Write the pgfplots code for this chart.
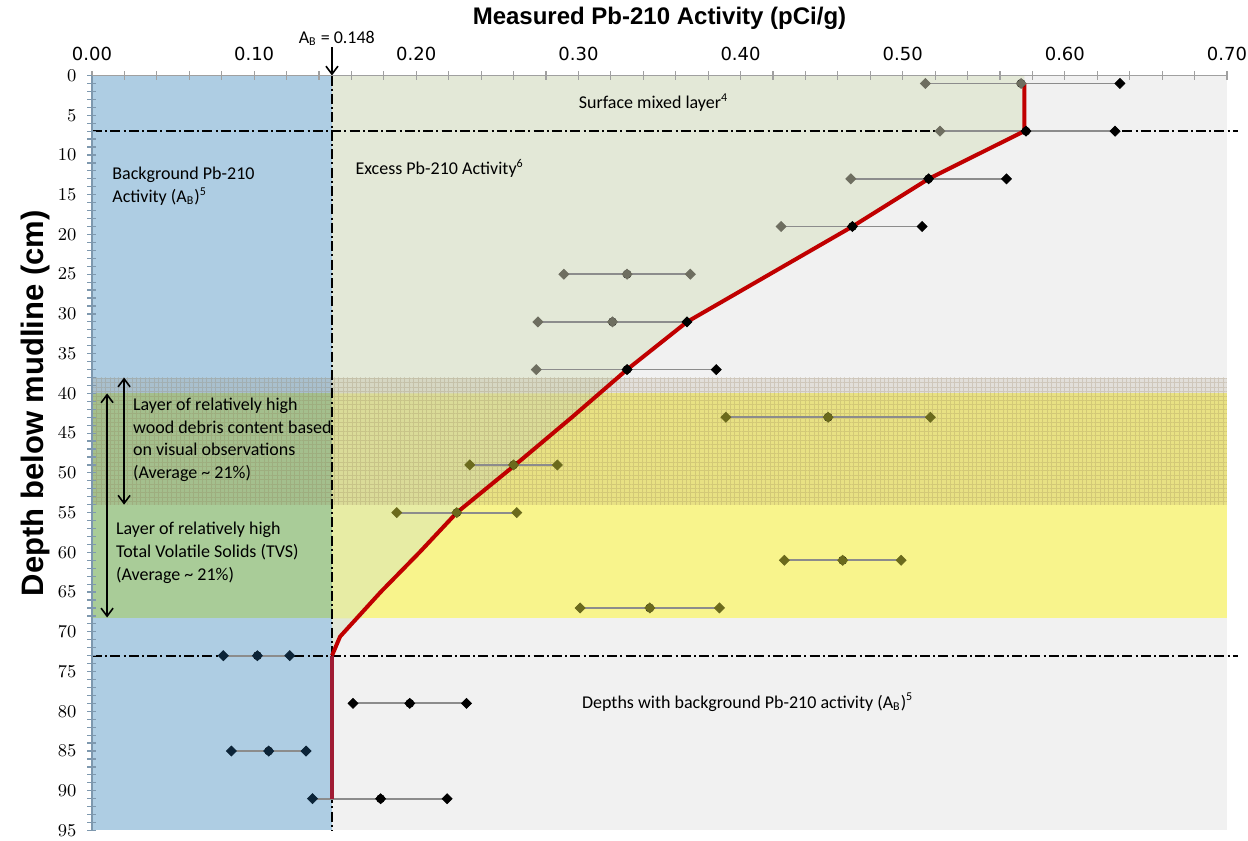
\documentclass[border=0pt]{standalone}
\usepackage{fontspec}
\setmainfont{Carlito}
\newfontfamily\tickfont{DejaVu Sans}
\newfontfamily\headfont{Liberation Sans}
\usepackage{pgfplots}
\usepackage{pgfplotstable}
\pgfplotsset{compat=1.18}
\usetikzlibrary{patterns.meta, arrows.meta}

\definecolor{plotgrey}{HTML}{F1F1F1}
\definecolor{bgblue}{HTML}{AECDE3}
\definecolor{excessgreen}{HTML}{E3E8D7}
\definecolor{tvsyellow}{HTML}{F8F48C}
\definecolor{tvsexcess}{HTML}{E7ECA4}
\definecolor{tvsblue}{HTML}{A9CC98}
\definecolor{hatchtone}{HTML}{8C7450}
\definecolor{modelred}{HTML}{C00000}
\definecolor{modeldark}{HTML}{A01C34}
\definecolor{barline}{HTML}{8C8C8C}
\definecolor{mkgrey}{HTML}{6E6E60}
\definecolor{mkolive}{HTML}{6B6A1C}
\definecolor{mknavy}{HTML}{0C2438}
\definecolor{yaxiscol}{HTML}{7E98AE}
\definecolor{xaxiscol}{HTML}{A0A0A0}

% Pb-210 activity per depth interval: lower bound, measured value, upper bound
% (marker shade classes: k black, g grey, o olive, n navy)
\pgfplotstableread{
d  lo    mid   hi    clo cmid chi
1  0.514 0.573 0.634 g g k
7  0.523 0.576 0.631 g k k
13 0.468 0.516 0.564 g k k
19 0.425 0.469 0.512 g k k
25 0.291 0.330 0.369 g g g
31 0.275 0.321 0.367 g g k
37 0.274 0.330 0.385 g k k
43 0.391 0.454 0.517 o o o
49 0.233 0.260 0.287 o o o
55 0.188 0.225 0.262 o o o
61 0.427 0.463 0.499 o o o
67 0.301 0.344 0.387 o o o
73 0.081 0.102 0.122 n n n
79 0.161 0.196 0.231 k k k
85 0.086 0.109 0.132 n n n
91 0.136 0.178 0.219 n k k
}\leadsamples

% fitted activity profile
\pgfplotstableread{
x     d
0.575 1
0.575 7
0.516 13
0.469 19
0.418 25
0.367 31
0.330 37
0.296 43
0.261 49
0.225 55
0.202 60
0.178 65
0.153 70.6
0.148 73
}\excessmodel

\pgfplotstableread{
x     d
0.148 73
0.148 91
}\backgroundmodel

\pgfplotsset{
  sample marks/.style={only marks, scatter, scatter src=explicit symbolic,
    mark=square*, mark size=1.75pt, mark options={rotate=45},
    scatter/classes={
      k={mark=square*, draw=black, fill=black},
      g={mark=square*, draw=mkgrey, fill=mkgrey},
      o={mark=square*, draw=mkolive, fill=mkolive},
      n={mark=square*, draw=mknavy, fill=mknavy}}},
  region/.style={draw=none, fill=#1, forget plot},
  dashdot/.style={black, line width=1pt, dash pattern=on 5pt off 1.6pt on 1pt off 1.6pt, forget plot},
}

\begin{document}
\begin{tikzpicture}
\begin{axis}[
  at={(0,0)}, anchor=south west,
  scale only axis, width=567.5pt, height=377.5pt,
  xmin=0, xmax=0.70, ymin=-95, ymax=0,
  axis x line*=top, axis y line*=left,
  axis on top, clip=false,
  xtick={0,0.1,0.2,0.3,0.4,0.5,0.6,0.7},
  minor x tick num=4,
  ytick={-95,-90,-85,-80,-75,-70,-65,-60,-55,-50,-45,-40,-35,-30,-25,-20,-15,-10,-5,0},
  minor y tick num=4,
  tick align=center,
  major tick length=4.5pt, minor tick length=4.5pt,
  x axis line style={xaxiscol, line width=0.8pt},
  y axis line style={yaxiscol, line width=1.1pt},
  xtick style={xaxiscol, line width=0.6pt},
  ytick style={yaxiscol, line width=0.6pt},
  x tick label style={font=\tickfont\fontsize{9}{10}\selectfont, yshift=1.5pt,
    /pgf/number format/.cd, fixed, fixed zerofill, precision=2, assume math mode=true},
  yticklabel={\pgfmathparse{abs(\tick)}\pgfmathprintnumber[fixed,precision=0]{\pgfmathresult}},
  y tick label style={font=\tickfont\fontsize{9}{10}\selectfont, xshift=-2pt},
  xlabel={Measured Pb-210 Activity (pCi/g)},
  xlabel style={font=\headfont\bfseries\fontsize{12}{14}\selectfont,
    at={(axis description cs:0.5,1.076)}, anchor=center},
  ylabel={Depth below mudline (cm)},
  ylabel style={font=\headfont\bfseries\fontsize{15.5}{17}\selectfont,
    at={(axis description cs:-0.0502,0.566)}, anchor=center},
]
% plot area and layer bands
\addplot[region=plotgrey] coordinates {(0,0) (0.70,0) (0.70,-95) (0,-95)} -- cycle;
\addplot[region=tvsyellow] coordinates {(0.148,-40) (0.70,-40) (0.70,-68.3) (0.148,-68.3)} -- cycle;
\addplot[region=excessgreen] coordinates {(0.148,0) (0.575,0) (0.575,-7) (0.516,-13) (0.469,-19)
  (0.418,-25) (0.367,-31) (0.330,-37) (0.296,-43) (0.261,-49) (0.225,-55) (0.202,-60)
  (0.178,-65) (0.153,-70.6) (0.148,-73)} -- cycle;
\addplot[region=tvsexcess] coordinates {(0.148,-40) (0.313,-40) (0.296,-43) (0.261,-49)
  (0.225,-55) (0.202,-60) (0.178,-65) (0.166,-68.3) (0.148,-68.3)} -- cycle;
\addplot[region=bgblue] coordinates {(0,0) (0.148,0) (0.148,-95) (0,-95)} -- cycle;
\addplot[region=tvsblue] coordinates {(0,-40) (0.148,-40) (0.148,-68.3) (0,-68.3)} -- cycle;
% wood debris layer
\addplot[draw=none, fill=hatchtone, fill opacity=0.14, forget plot]
  coordinates {(0,-38) (0.70,-38) (0.70,-54) (0,-54)} -- cycle;
\addplot[draw=none, pattern={Hatch[angle=0,distance=2.2pt,line width=0.45pt]},
  pattern color=hatchtone, opacity=0.22, forget plot]
  coordinates {(0,-38) (0.70,-38) (0.70,-54) (0,-54)} -- cycle;

% boundaries
\addplot[dashdot] coordinates {(0,-7) (0.707,-7)};
\addplot[dashdot] coordinates {(0,-73) (0.707,-73)};
\addplot[dashdot] coordinates {(0.148,0) (0.148,-95)};

% measured ranges
\addplot[only marks, mark=none, forget plot,
  error bars/.cd, x dir=both, x explicit, error mark=none,
  error bar style={barline, line width=0.9pt}]
  table[x=mid, y expr=-\thisrow{d},
        x error plus expr=\thisrow{hi}-\thisrow{mid},
        x error minus expr=\thisrow{mid}-\thisrow{lo}] {\leadsamples};
\addplot[sample marks] table[x=lo,  y expr=-\thisrow{d}, meta=clo]  {\leadsamples};
\addplot[sample marks] table[x=mid, y expr=-\thisrow{d}, meta=cmid] {\leadsamples};
\addplot[sample marks] table[x=hi,  y expr=-\thisrow{d}, meta=chi]  {\leadsamples};

% activity profile
\addplot[modelred, line width=2pt, mark=none, line join=round] table[x=x, y expr=-\thisrow{d}] {\excessmodel};
\addplot[modeldark, line width=2pt, mark=none] table[x=x, y expr=-\thisrow{d}] {\backgroundmodel};

% annotations
\begin{scope}[every node/.style={inner sep=0pt, font=\fontsize{9}{11.35}\selectfont}]
\node[anchor=base west] at (axis cs:0.300,-4.21) {Surface mixed layer\textsuperscript{4}};
\node[anchor=base west] at (axis cs:0.1623,-12.5) {Excess Pb-210 Activity\textsuperscript{6}};
\node[anchor=base west, align=left] at (axis cs:0.0123,-16.0)
  {Background Pb-210\\Activity (A\textsubscript{B})\textsuperscript{5}};
\node[anchor=base west, align=left] at (axis cs:0.0251,-50.7)
  {Layer of relatively high\\wood debris content based\\on visual observations\\(Average \textasciitilde{} 21\%)};
\node[anchor=base west, align=left] at (axis cs:0.0146,-63.5)
  {Layer of relatively high\\Total Volatile Solids (TVS)\\(Average \textasciitilde{} 21\%)};
\node[anchor=base west] at (axis cs:0.302,-79.6)
  {Depths with background Pb-210 activity (A\textsubscript{B})\textsuperscript{5}};
\node[anchor=center, font=\fontsize{9}{10}\selectfont] at (axis cs:0.151,4.7) {A\textsubscript{B} = 0.148};
\end{scope}
\draw[<->, >={Straight Barb[length=4pt,width=6pt]}, line width=0.8pt]
  (axis cs:0.0198,-38) -- (axis cs:0.0198,-54);
\draw[<->, >={Straight Barb[length=4pt,width=6pt]}, line width=0.8pt]
  (axis cs:0.0093,-40) -- (axis cs:0.0093,-68.2);
\draw[->, >={Straight Barb[length=4pt,width=6pt]}, line width=0.8pt]
  (axis cs:0.148,3.6) -- (axis cs:0.148,0);
\end{axis}
\pgfresetboundingbox
\path[use as bounding box] (-46pt,-5pt) rectangle (578pt,415.25pt);
\end{tikzpicture}
\end{document}
